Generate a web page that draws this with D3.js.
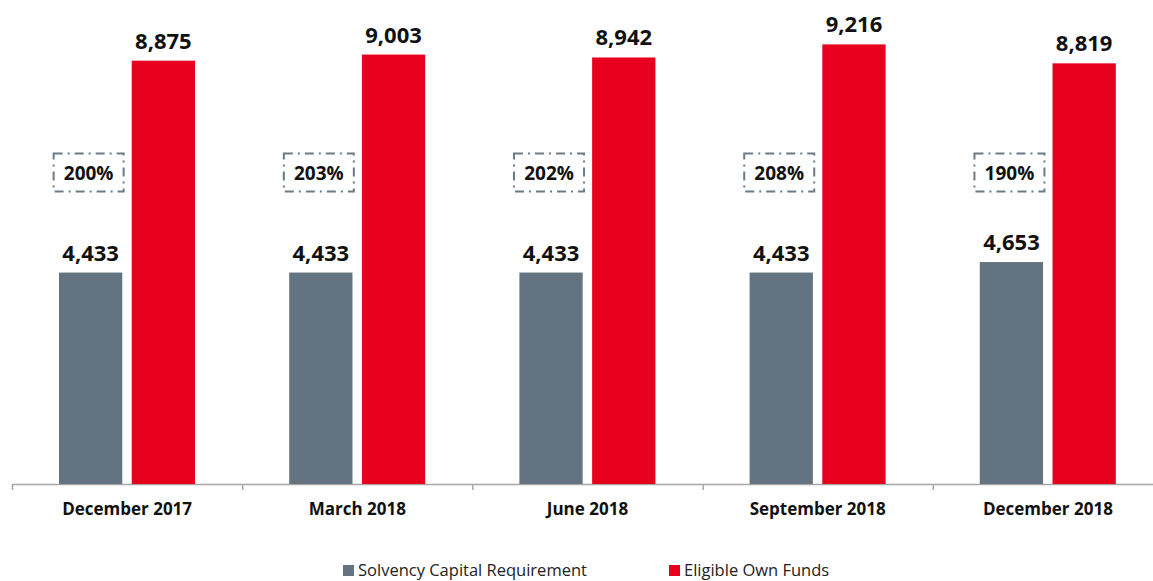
<!DOCTYPE html>
<html>
<head>
<meta charset="utf-8">
<script src="https://cdn.jsdelivr.net/npm/d3@7"></script>
<style>
  html, body { margin: 0; padding: 0; background: #fff; }
  svg { display: block; font-family: "Open Sans", Lato, sans-serif; }
</style>
</head>
<body>
<div id="chart"></div>
<script>
// values (EUR m)
const periods = ['December 2017', 'March 2018', 'June 2018', 'September 2018', 'December 2018'];
const scr = [4433, 4433, 4433, 4433, 4653];
const eof = [8875, 9003, 8942, 9216, 8819];
const ratios = ['200%', '203%', '202%', '208%', '190%'];
const seriesNames = ['Solvency Capital Requirement', 'Eligible Own Funds'];
const seriesColors = ['#63737f', '#e8001f'];

const width = 1153, height = 581;
const baseY = 484;

const rows = periods.map((p, i) => ({ period: p, values: [scr[i], eof[i]], ratio: ratios[i] }));

const svg = d3.select('#chart').append('svg')
    .attr('width', width)
    .attr('height', height);

let x0 = d3.scaleBand()
    .domain(periods)
    .range([12, 1163])
    .padding(0);

let x1 = d3.scaleBand()
    .domain([0, 1])
    .range([47, 183])
    .paddingInner(0.13);

let y = d3.scaleLinear()
    .domain([0, 10000])
    .range([baseY, 7]);

// axis line + ticks at category boundaries
svg.append('line')
    .attr('x1', 12).attr('x2', width)
    .attr('y1', baseY + 0.5).attr('y2', baseY + 0.5)
    .attr('stroke', '#a6a6a6').attr('stroke-width', 1.5);

svg.selectAll('.tick')
    .data(periods.concat(['end']))
    .enter()
    .append('line')
    .attr('x1', (d, i) => 12 + i * x0.step() + 0.5)
    .attr('x2', (d, i) => 12 + i * x0.step() + 0.5)
    .attr('y1', baseY)
    .attr('y2', baseY + 6)
    .attr('stroke', '#a6a6a6').attr('stroke-width', 1.5);

const groups = svg.selectAll('.grp')
    .data(rows)
    .enter()
    .append('g')
    .attr('transform', d => `translate(${x0(d.period)},0)`);

groups.selectAll('rect')
    .data(d => d.values)
    .enter()
    .append('rect')
    .attr('x', (d, i) => x1(i))
    .attr('y', d => y(d))
    .attr('width', x1.bandwidth())
    .attr('height', d => baseY - y(d))
    .attr('fill', (d, i) => seriesColors[i]);

groups.selectAll('.val')
    .data(d => d.values)
    .enter()
    .append('text')
    .attr('x', (d, i) => x1(i) + x1.bandwidth() / 2)
    .attr('y', d => y(d) - 12)
    .attr('text-anchor', 'middle')
    .attr('font-size', 22)
    .attr('font-weight', 'bold')
    .attr('fill', '#111')
    .text(d => d3.format(',')(d));

// ratio boxes above the SCR bar
groups.append('rect')
    .attr('x', x1(0) + x1.bandwidth() / 2 - 37)
    .attr('y', 153.5)
    .attr('width', 70)
    .attr('height', 38)
    .attr('fill', 'none')
    .attr('stroke', '#6b7b87')
    .attr('stroke-width', 2)
    .attr('stroke-dasharray', '9,5,2,5');

groups.append('text')
    .attr('x', x1(0) + x1.bandwidth() / 2 - 2)
    .attr('y', 180)
    .attr('text-anchor', 'middle')
    .attr('font-size', 19)
    .attr('font-weight', 'bold')
    .attr('fill', '#111')
    .text(d => d.ratio);

// category labels
groups.append('text')
    .attr('x', x0.bandwidth() / 2)
    .attr('y', 515)
    .attr('text-anchor', 'middle')
    .attr('font-size', 17)
    .attr('font-weight', 'bold')
    .attr('fill', '#111')
    .text(d => d.period);

// legend
const legendX = [343, 669];
const legend = svg.selectAll('.leg')
    .data(seriesNames)
    .enter()
    .append('g')
    .attr('transform', (d, i) => `translate(${legendX[i]},565)`);

legend.append('rect')
    .attr('width', 11).attr('height', 11)
    .attr('fill', (d, i) => seriesColors[i]);

legend.append('text')
    .attr('x', 15)
    .attr('y', 11)
    .attr('font-size', 16.5)
    .attr('fill', '#222')
    .text(d => d);
</script>
</body>
</html>
